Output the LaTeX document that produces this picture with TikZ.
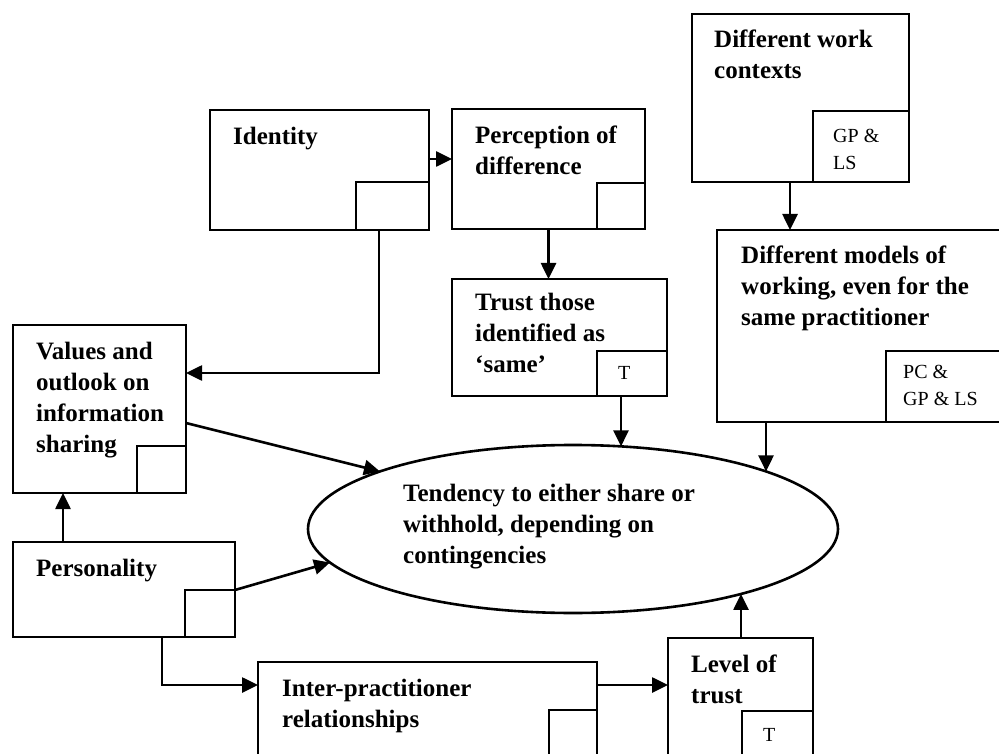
\documentclass[tikz,border=0pt]{standalone}
\usepackage{fontspec}
\setmainfont{Liberation Serif}
\usetikzlibrary{arrows.meta,shapes.geometric}

\tikzset{
  box/.style={draw, line width=2.8pt, inner sep=0pt, outer sep=0pt, anchor=north west},
  subbox/.style={draw, line width=2.8pt, inner sep=0pt, outer sep=0pt, anchor=south east},
  lbl/.style={anchor=base west, inner sep=0pt, align=left,
              font=\fontsize{25}{31}\selectfont\bfseries},
  tag/.style={anchor=base west, inner sep=0pt, align=left,
              font=\fontsize{20}{27}\selectfont},
  link/.style={line width=2.6pt, -{Triangle[length=16pt,width=15pt]}}
}

\begin{document}
\begin{tikzpicture}[x=1pt,y=-1pt]
\clip (0,0) rectangle (999,754);
\fill[white] (0,0) rectangle (999,754);

% factor boxes
\node[box, minimum width=219pt, minimum height=120pt] (idb) at (210,110) {};
\node[box, minimum width=193pt, minimum height=120pt] (perb) at (452,109) {};
\node[box, minimum width=215pt, minimum height=117pt] (trb) at (452,279) {};
\node[box, minimum width=217pt, minimum height=168pt] (wkb) at (692,14) {};
\node[box, minimum width=300pt, minimum height=192pt] (mdb) at (717,230) {};
\node[box, minimum width=173pt, minimum height=168pt] (vab) at (13,325) {};
\node[box, minimum width=222pt, minimum height=95pt] (psb) at (13,542) {};
\node[box, minimum width=339pt, minimum height=120pt] (ipb) at (258,662) {};
\node[box, minimum width=145pt, minimum height=150pt] (lvb) at (668,638) {};

% corner boxes for the practitioner codes
\node[subbox, minimum width=73pt, minimum height=48pt] (idin) at (idb.south east) {};
\node[subbox, minimum width=48pt, minimum height=46pt] (perin) at (perb.south east) {};
\node[subbox, minimum width=70pt, minimum height=45pt] (trin) at (trb.south east) {};
\node[subbox, minimum width=96pt, minimum height=71pt] (wkin) at (wkb.south east) {};
\node[subbox, minimum width=131pt, minimum height=71pt] (mdin) at (mdb.south east) {};
\node[subbox, minimum width=49pt, minimum height=47pt] (vain) at (vab.south east) {};
\node[subbox, minimum width=50pt, minimum height=47pt] (psin) at (psb.south east) {};
\node[subbox, minimum width=48pt, minimum height=72pt] (ipin) at (ipb.south east) {};
\node[subbox, minimum width=71pt, minimum height=77pt] (lvin) at (lvb.south east) {};

% central outcome
\node[draw, ellipse, line width=2.6pt, inner sep=0pt, minimum width=530pt, minimum height=168pt] (ell) at (573,529) {};

% box texts (anchored on the baseline of the last line)
\node[lbl] (idt) at ([xshift=23pt,yshift=-34.5pt]idb.north west) {Identity};
\node[lbl] (pert) at ([xshift=23pt,yshift=-65.5pt]perb.north west) {Perception of\\difference};
\node[lbl] (trt) at ([xshift=23pt,yshift=-93.5pt]trb.north west) {Trust those\\identified as\\‘same’};
\node[lbl] (wkt) at ([xshift=22pt,yshift=-65pt]wkb.north west) {Different work\\contexts};
\node[lbl] (mdt) at ([xshift=24pt,yshift=-95pt]mdb.north west) {Different models of\\working, even for the\\same practitioner};
\node[lbl] (vat) at ([xshift=23pt,yshift=-127pt]vab.north west) {Values and\\outlook on\\information\\sharing};
\node[lbl] (pst) at ([xshift=23pt,yshift=-34.5pt]psb.north west) {Personality};
\node[lbl] (ipt) at ([xshift=24pt,yshift=-65.5pt]ipb.north west) {Inter-practitioner\\relationships};
\node[lbl] (lvt) at ([xshift=23pt,yshift=-65.5pt]lvb.north west) {Level of\\trust};
\node[lbl] (ellt) at ([xshift=-170pt,yshift=-34pt]ell.center) {Tendency to either share or\\withhold, depending on\\contingencies};

% codes
\node[tag] (wkc) at ([xshift=20pt,yshift=-59pt]wkin.north west) {GP \&\\LS};
\node[tag] (mdc) at ([xshift=17pt,yshift=-54pt]mdin.north west) {PC \&\\GP \& LS};
\node[tag] (trc) at ([xshift=21pt,yshift=-28pt]trin.north west) {T};
\node[tag] (lvc) at ([xshift=21pt,yshift=-30pt]lvin.north west) {T};

% points where the connectors meet the ellipse
\path (ell.center) ++(79.56:265pt and 84pt) coordinate (e1);
\path (ell.center) ++(43.25:265pt and 84pt) coordinate (e2);
\path (ell.center) ++(-50.65:265pt and 84pt) coordinate (e3);
\path (ell.center) ++(136.75:265pt and 84pt) coordinate (e4);
\path (ell.center) ++(-156.5:265pt and 84pt) coordinate (e5);

% connectors
\draw[link] ([yshift=-49pt]idb.north east) -- ([yshift=-49pt]idb.north east -| perb.west);
\draw[link] (perb.south) -- (perb.south |- trb.north);
\draw[link] ([xshift=-10.5pt]wkb.south) -- ([xshift=-10.5pt]wkb.south |- mdb.north);
\draw[link] ([xshift=23pt]idin.south west) |- ([yshift=-48pt]vab.north east);
\draw[link] (e1 |- trin.south) -- (e1);
\draw[link] (e2 |- mdb.south) -- (e2);
\draw[link] (e3 |- lvb.north) -- (e3);
\draw[link] ([yshift=-98pt]vab.north east) -- (e4);
\draw[link] (psin.north east) -- (e5);
\draw[link] ([xshift=50pt]psb.north west) -- ([xshift=50pt]vab.south west);
\draw[link] ([xshift=149pt]psb.south west) |- ([yshift=-23pt]ipb.north west);
\draw[link] ([yshift=-23pt]ipb.north east) -- ([yshift=-23pt]ipb.north east -| lvb.west);
\end{tikzpicture}
\end{document}
